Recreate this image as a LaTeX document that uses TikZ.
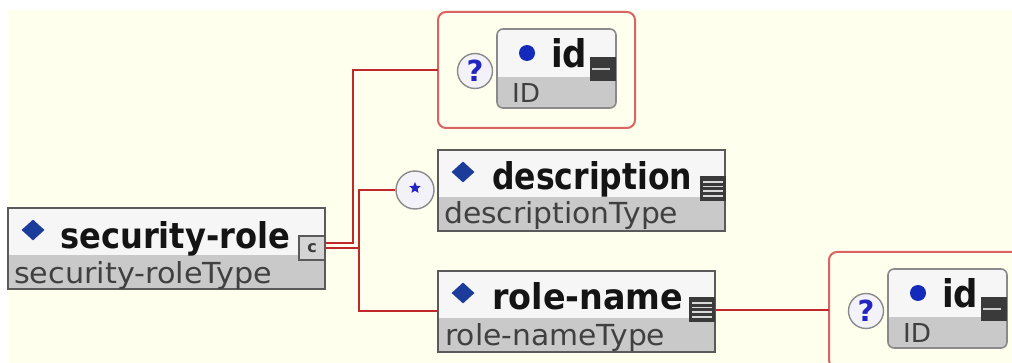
\documentclass[tikz,border=0pt]{standalone}
\usepackage{fontspec}
\setmainfont{DejaVu Sans}
\usepackage{graphicx}
\usetikzlibrary{shapes.geometric,calc}
\definecolor{cream}{HTML}{FFFFEE}
\definecolor{connred}{HTML}{C0282C}
\definecolor{optred}{HTML}{D86464}
\definecolor{boxline}{HTML}{5A5A5A}
\definecolor{idline}{HTML}{8A8A8A}
\definecolor{topfill}{HTML}{F6F6F6}
\definecolor{typefill}{HTML}{C9C9C9}
\definecolor{dblue}{HTML}{1C3C9C}
\definecolor{qblue}{HTML}{2424C0}
\definecolor{icondark}{HTML}{3A3A3A}
\definecolor{typetext}{HTML}{404040}
\definecolor{titletext}{HTML}{141414}
\definecolor{circfill}{HTML}{F2F2F8}
\newcommand\fitwh[3]{\resizebox{#1pt}{#2pt}{#3}}
\tikzset{
  conn/.style={draw=connred, line width=2pt},
  elemfill/.style={rectangle, fill=topfill, inner sep=0, outer sep=0, minimum height=81pt, anchor=north west},
  idfill/.style={rectangle, rounded corners=6pt, fill=topfill, inner sep=0, outer sep=0, minimum width=119pt, minimum height=79pt, anchor=north west},
  optbox/.style={rectangle, rounded corners=8pt, draw=optred, line width=2pt, inner sep=0, outer sep=0, minimum width=197pt, minimum height=116pt, anchor=north west},
  titletxt/.style={anchor=base west, inner sep=0, text=titletext, font=\bfseries\fontsize{32}{32}\selectfont},
  typetxt/.style={anchor=base west, inner sep=0, text=typetext, font=\fontsize{29}{29}\selectfont},
  blued/.style={diamond, fill=dblue, inner sep=0, minimum width=23pt, minimum height=21pt},
  bluedot/.style={circle, fill=dblue!70!blue, inner sep=0, minimum size=16pt},
  qcirc/.style={circle, draw=idline, fill=circfill, line width=1.4pt, inner sep=0, minimum size=35pt, text=qblue, font=\bfseries\fontsize{29}{29}\selectfont},
  darkicon/.style={rectangle, fill=icondark, inner sep=0, outer sep=0, minimum width=26pt, minimum height=25pt},
  iconline/.style={draw=white!85!black, line width=1.6pt}
}
\newcommand\elembox[4]{%
  \node[elemfill, minimum width=#4pt] (#1) at (#2,#3) {};
  \fill[typefill] ($(#1.north west)+(0,47)$) rectangle (#1.south east);
  \draw[boxline, line width=1.8pt] (#1.north west) rectangle (#1.south east);
}
\newcommand\idbox[3]{%
  \node[idfill] (#1) at (#2,#3) {};
  \begin{scope}
    \clip[rounded corners=6pt] (#1.north west) rectangle (#1.south east);
    \fill[typefill] ($(#1.north west)+(0,48)$) rectangle (#1.south east);
  \end{scope}
  \draw[idline, line width=1.6pt, rounded corners=6pt] (#1.north west) rectangle (#1.south east);
}
\newcommand\linesicon[3]{%
  \node[darkicon] (#1) at (#2,#3) {};
  \foreach \d in {-7,-2.3,2.3,7}
    \draw[iconline] ($(#1.west)+(3,\d)$) -- ($(#1.east)+(-3,\d)$);
}
\newcommand\minusicon[3]{%
  \node[darkicon, minimum height=24pt] (#1) at (#2,#3) {};
  \draw[draw=white!80!black, line width=2.6pt] ($(#1.west)+(2,0)$) -- ($(#1.east)+(-6,0)$);
}
\begin{document}
\begin{tikzpicture}[x=1pt,y=-1pt]
\useasboundingbox (0,0) rectangle (1012,363);
\clip (0,0) rectangle (1012,363);
\fill[white] (0,0) rectangle (1012,363);
\fill[cream] (8,10) rectangle (1012,363);

% bus coordinates
\coordinate (busa) at (353,0);
\coordinate (busb) at (359,0);

% security-role
\elembox{sr}{8}{208}{317}
\node[blued] (srd) at (33,230) {};
\node[titletxt] (srt) at (60,249) {\fitwh{230}{27}{security-role}};
\node[typetxt] (srty) at (14,284) {\fitwh{258}{22}{security-roleType}};
\node[rectangle, draw=boxline, fill=typefill!80!white, line width=1.4pt, inner sep=0, minimum width=26pt, minimum height=24pt, font=\bfseries\fontsize{16}{16}\selectfont, text=icondark] (sricon) at (312,248) {c};

% optional id (top)
\node[optbox] (opt1) at (438,12) {};
\node[qcirc] (q1) at (475,71) {?};
\idbox{id1}{497}{29}
\node[bluedot] (id1d) at (527,53) {};
\node[titletxt] (id1t) at (551,68) {\fitwh{36}{29}{id}};
\node[typetxt] (id1ty) at (512,103) {\fitwh{28}{19}{ID}};
\minusicon{id1m}{603}{69}

% description
\node[qcirc, minimum size=38pt] (dc) at (415,190) {};
\node[star, star points=5, star point ratio=2.2, fill=qblue, inner sep=0, minimum size=12pt] (dcs) at (415,188) {};
\elembox{desc}{438}{150}{287}
\node[blued] (descd) at (463,172) {};
\node[titletxt] (desct) at (492,190) {\fitwh{200}{28}{description}};
\node[typetxt] (descty) at (444,224) {\fitwh{234}{22}{descriptionType}};
\linesicon{descicon}{713}{189}

% role-name
\elembox{rn}{438}{271}{277}
\node[blued] (rnd) at (463,293) {};
\node[titletxt] (rnt) at (492,310) {\fitwh{191}{27}{role-name}};
\node[typetxt] (rnty) at (445,345) {\fitwh{220}{22}{role-nameType}};
\linesicon{rnicon}{702}{310}

% optional id (bottom right)
\node[optbox] (opt2) at (829,252) {};
\node[qcirc] (q2) at (866,311) {?};
\idbox{id2}{888}{269}
\node[bluedot] (id2d) at (918,293) {};
\node[titletxt] (id2t) at (942,308) {\fitwh{36}{29}{id}};
\node[typetxt] (id2ty) at (903,343) {\fitwh{28}{19}{ID}};
\minusicon{id2m}{994}{309}

% connectors
\draw[conn] ($(sricon.east)+(0,-5)$) -| (busa |- opt1.west) -- (opt1.west);
\draw[conn] (sricon.east) -- (busb |- sricon.east);
\draw[conn] (dc.west) -- (busb |- dc.west) -- (busb |- rn.west) -- (rn.west);
\draw[conn] (rnicon.east) -- (rnicon.east -| opt2.west);
\end{tikzpicture}
\end{document}
